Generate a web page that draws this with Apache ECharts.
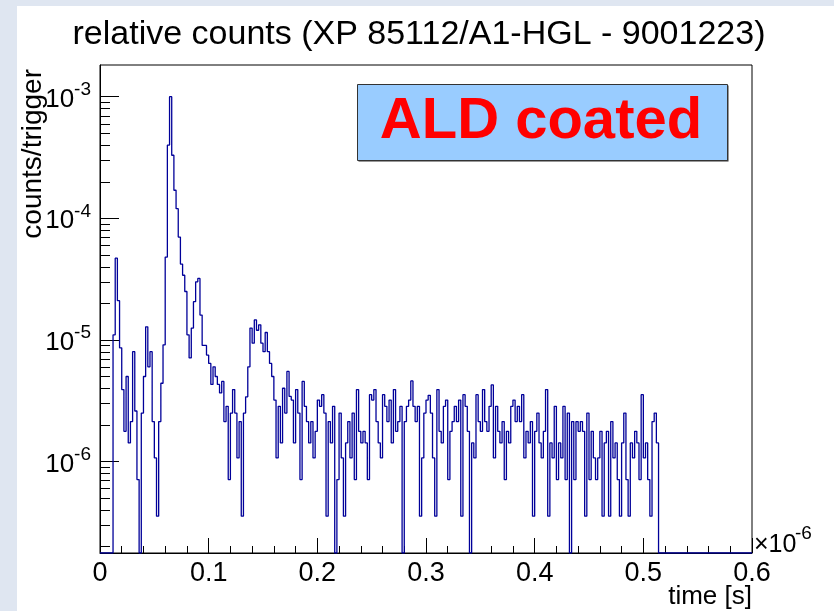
<!DOCTYPE html>
<html>
<head>
<meta charset="utf-8">
<script src="https://cdn.jsdelivr.net/npm/echarts@6.0.0/dist/echarts.min.js"></script>
<style>
  html, body { margin: 0; padding: 0; background: #ffffff; }
  #chart { width: 834px; height: 611px; }
</style>
</head>
<body>
<div id="chart"></div>
<script>
// ---------------- data (counts/trigger, in units of 1e-6) ----------------
const binWidthUs = 0.002;          // histogram bin width in microseconds
const xTickLabels = ['0', '0.1', '0.2', '0.3', '0.4', '0.5', '0.6'];
const yDecades = [-7, -6, -5, -4, -3];
const yMinorMultipliers = [2, 3, 4, 5, 6, 7, 8, 9];

// bins 0..29 : early pre-pulses
const riseBins = [0, 0, 0, 0, 0, 0, 11, 47, 21, 8.6, 3.9, 1.77, 5.0, 1.42, 2.13, 8.0, 2.6, 0.71, 0, 2.5,
                  5.0, 12.8, 6.0, 8.0, 2.13, 1.07, 0.355, 2.13, 4.4, 9.1];
// bins 30..67 : main peak and first after-pulse
const peakBins = [48, 400, 1000, 330, 170, 120, 70, 42, 34, 25, 11, 7.1, 12.5, 20.6, 30, 32, 16, 9, 9.0, 7.5,
                  6.4, 4.3, 6.0, 5.0, 4.3, 3.66, 4.55, 2.13, 2.84, 0.71, 2.5, 3.9, 2.5, 1.07, 2.13, 0.355, 2.5, 3.4];
// bins 68..99 : second after-pulse bump
const bumpBins = [6.0, 12.5, 9.4, 14.6, 12, 13.3, 9.4, 8.0, 11.5, 8.0, 6.4, 5.0, 3.2, 1.07, 2.84, 1.42,
                  4.0, 2.5, 5.5, 3.43, 3.2, 1.42, 3.9, 2.5, 0.71, 4.55, 2.84, 2.13, 1.42, 2.13, 1.07, 1.77];
// flat tail
const tailA = [3.2, 2.84, 3.54, 2.5, 0.355, 2.13, 1.42, 2.84, 0, 0.71, 2.5, 1.07, 0.355, 1.42, 2.13, 1.07,
               2.5, 0.71, 3.9, 1.77, 1.42, 1.77, 1.42, 0.71, 3.54, 3.2, 3.9, 2.13, 1.42, 1.07, 3.54, 2.84,
               2.13, 3.2, 1.42, 3.9, 1.77, 2.13, 2.84, 0, 2.13, 2.84, 3.2, 4.6, 2.84, 2.13, 2.84, 0.355,
               1.07, 2.5, 3.2];
const tailB = [3.5, 2.5, 1.07, 0.355, 3.9, 1.77, 1.42, 2.84, 3.2, 0.71, 1.77, 2.13, 2.84, 2.13, 3.2, 0.355,
               3.54, 2.84, 1.77, 0, 1.42, 1.07, 3.54, 2.13, 1.77, 3.9, 2.13, 1.77, 2.84, 4.26, 1.07, 2.84,
               1.77, 1.42, 2.13, 0.71, 1.77, 1.42, 2.84, 3.2, 2.13, 2.84, 2.13, 3.54, 1.07, 1.77, 1.42,
               2.13, 0.355, 1.77];
const tailC = [2.5, 1.42, 1.07, 1.77, 3.9, 0.355, 1.42, 1.07, 2.84, 0.71, 1.42, 1.07, 2.84, 0.71, 2.5, 0,
               2.13, 0.71, 2.13, 1.77, 2.13, 1.77, 0.355, 2.5, 0.71, 1.77, 1.07, 0.71, 1.07, 1.77, 0.355,
               1.42, 1.77, 0.355, 2.13, 1.07, 1.42, 0.71, 0.355, 1.42, 2.5, 0.71, 0.355, 1.42, 1.07, 1.77,
               1.42, 0.71, 3.54, 1.07, 1.42, 0.71, 0.355, 2.13, 2.5, 1.42];
const emptyBins = [0, 0, 0, 0, 0, 0, 0, 0, 0, 0, 0, 0, 0, 0, 0, 0, 0, 0, 0, 0, 0, 0,
                   0, 0, 0, 0, 0, 0, 0, 0, 0, 0, 0, 0, 0, 0, 0, 0, 0, 0, 0, 0, 0];

// ---------------- build ----------------
const yMin = 1.767e-7, yMax = 1.822e-3;
const allBins = [].concat(riseBins, peakBins, bumpBins, tailA, tailB, tailC, emptyBins);
const histPts = allBins.map((v, i) => [i * binWidthUs, v > 0 ? v * 1e-6 : yMin]);
histPts.push([allBins.length * binWidthUs, histPts[histPts.length - 1][1]]);

const minorTicks = [];
yDecades.forEach(d => yMinorMultipliers.forEach(m => {
  const v = m * Math.pow(10, d);
  if (v > yMin && v < yMax) minorTicks.push([0, v]);
}));

const FONT = '"Liberation Sans", Arial, Helvetica, sans-serif';
const chart = echarts.init(document.getElementById('chart'), null, { renderer: 'canvas' });

chart.setOption({
  backgroundColor: '#ffffff',
  animation: false,
  graphic: [
    { type: 'rect', shape: { x: 0, y: 0, width: 17, height: 611 }, style: { fill: '#dfe6f1' }, silent: true },
    { type: 'rect', shape: { x: 0, y: 0, width: 834, height: 6 }, style: { fill: '#dfe6f1' }, silent: true },
    { type: 'text', x: 419, y: 35, silent: true,
      style: { text: 'relative counts (XP 85112/A1-HGL - 9001223)', fill: '#000', font: '34px ' + FONT,
               textAlign: 'center', textVerticalAlign: 'middle' } },
    { type: 'text', x: 33, y: 69, rotation: Math.PI / 2, silent: true,
      style: { text: 'counts/trigger', fill: '#000', font: '28px ' + FONT,
               textAlign: 'right', textVerticalAlign: 'middle' } },
    { type: 'text', x: 752, y: 597, silent: true,
      style: { text: 'time [s]', fill: '#000', font: '26px ' + FONT,
               textAlign: 'right', textVerticalAlign: 'middle' } },
    { type: 'text', x: 754, y: 545, silent: true,
      style: { text: '\u00d710', fill: '#000', font: '25px ' + FONT,
               textAlign: 'left', textVerticalAlign: 'middle' } },
    { type: 'text', x: 795, y: 534, silent: true,
      style: { text: '-6', fill: '#000', font: '19px ' + FONT,
               textAlign: 'left', textVerticalAlign: 'middle' } },
    { type: 'rect', shape: { x: 358.5, y: 85.5, width: 370, height: 76 }, style: { fill: '#333333' }, silent: true, z: 10 },
    { type: 'rect', shape: { x: 357.5, y: 84.5, width: 370, height: 76 },
      style: { fill: '#99ccff', stroke: '#333333', lineWidth: 1 }, silent: true, z: 11 },
    { type: 'text', x: 541, y: 122, silent: true, z: 12,
      style: { text: 'ALD coated', fill: '#ff0000', font: 'bold 58px ' + FONT,
               textAlign: 'center', textVerticalAlign: 'middle' } }
  ],
  grid: {
    left: 100, right: 82, top: 65, bottom: 58,
    show: true, borderColor: '#000', borderWidth: 1, backgroundColor: 'transparent'
  },
  xAxis: {
    type: 'value', min: 0, max: 0.6, interval: 0.1,
    axisLine: { show: true, lineStyle: { color: '#000', width: 1 } },
    axisTick: { show: true, inside: true, length: 15, lineStyle: { color: '#000' } },
    minorTick: { show: true, splitNumber: 5, length: 7, lineStyle: { color: '#000' } },
    splitLine: { show: false },
    axisLabel: {
      margin: 7, color: '#000', fontSize: 27, fontFamily: FONT,
      formatter: v => xTickLabels[Math.round(v / 0.1)]
    }
  },
  yAxis: {
    type: 'log', logBase: 10, min: yMin, max: yMax,
    axisLine: { show: true, lineStyle: { color: '#000', width: 1 } },
    axisTick: { show: true, inside: true, length: 19, lineStyle: { color: '#000' } },
    splitLine: { show: false },
    axisLabel: {
      margin: 9, color: '#000', showMinLabel: false, showMaxLabel: false,
      padding: [6, 0, 0, 0],
      formatter: v => '{b|10}{s|' + Math.round(Math.log10(v)) + '}',
      rich: {
        b: { fontSize: 26, fontFamily: FONT, color: '#000', lineHeight: 36 },
        s: { fontSize: 19, fontFamily: FONT, color: '#000', lineHeight: 16, padding: [0, 0, 20, 0] }
      }
    }
  },
  series: [
    {
      type: 'line', data: histPts, step: 'end', symbol: 'none', clip: true,
      lineStyle: { color: '#000099', width: 1.3 }, z: 3, silent: true
    },
    {
      type: 'custom', data: minorTicks, silent: true, z: 4, clip: false,
      renderItem: (params, api) => {
        const p = api.coord([api.value(0), api.value(1)]);
        const y = Math.round(p[1]) + 0.5;
        return { type: 'line', shape: { x1: p[0], y1: y, x2: p[0] + 10, y2: y },
                 style: { stroke: '#000', lineWidth: 1 } };
      }
    }
  ]
});
</script>
</body>
</html>
